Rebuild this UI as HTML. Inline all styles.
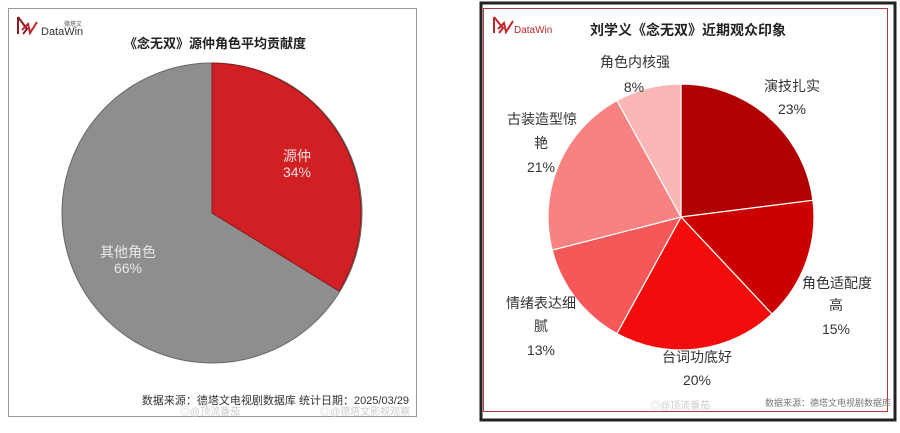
<!DOCTYPE html>
<html><head><meta charset="utf-8"><style>
html,body{margin:0;padding:0;background:#fff;width:900px;height:433px;overflow:hidden}
svg{display:block;font-family:"Liberation Sans","Noto Sans CJK SC",sans-serif}
</style></head><body>
<svg width="900" height="433" viewBox="0 0 900 433">
<rect x="0" y="0" width="900" height="433" fill="#fff"/>
<!-- Left panel -->
<rect x="8.5" y="8.5" width="408" height="408" fill="#fff" stroke="#999" stroke-width="1"/>
<g>
<path d="M18 17 L27 29 L23 34 M18 17 L18 34" stroke="#8a1a22" stroke-width="2" fill="none"/>
<path d="M22 30 L28 24 L30 33 L37 22" stroke="#c0272d" stroke-width="2" fill="none"/>
<text x="41" y="35" font-size="11" fill="#333">DataWin</text>
<text x="64" y="26" font-size="6" fill="#555">德塔文</text>
</g>
<text x="215" y="48" font-size="13" font-weight="bold" text-anchor="middle" fill="#222">《念无双》源仲角色平均贡献度</text>
<circle cx="212" cy="213" r="150" fill="#8e8e8e" stroke="#666" stroke-width="1"/>
<path d="M212 213 L212 63 A150 150 0 0 1 339 291 Z" fill="#d02024" stroke="#8a1a1a" stroke-width="1"/>
<text x="297" y="161" font-size="14" text-anchor="middle" fill="#f4dede">源仲</text>
<text x="297" y="177" font-size="14" text-anchor="middle" fill="#f4dede">34%</text>
<text x="128" y="257" font-size="14" text-anchor="middle" fill="#e8e8e8">其他角色</text>
<text x="128" y="273" font-size="14" text-anchor="middle" fill="#e8e8e8">66%</text>
<text x="409" y="404" font-size="11" text-anchor="end" fill="#333">数据来源：德塔文电视剧数据库  统计日期：2025/03/29</text>
<text x="180" y="415" font-size="10" fill="#ccc">◎@顶流番茄</text>
<text x="320" y="415" font-size="10" fill="#ccc">◎@德塔文影视观察</text>

<!-- Right panel -->
<rect x="481" y="3" width="414" height="417" fill="#fff" stroke="#222" stroke-width="3"/>
<rect x="483.5" y="8.5" width="404" height="403" fill="none" stroke="#b03a3a" stroke-width="1"/>
<g>
<path d="M494 17 L503 28 L499 33 M494 17 L494 33" stroke="#c0272d" stroke-width="2" fill="none"/>
<path d="M498 29 L504 23 L506 32 L513 21" stroke="#c0272d" stroke-width="2" fill="none"/>
<text x="514" y="33" font-size="10" fill="#c0272d">DataWin</text>
</g>
<text x="688" y="35" font-size="14" font-weight="bold" text-anchor="middle" fill="#222">刘学义《念无双》近期观众印象</text>
<g stroke="#fff" stroke-width="1.2">
<path d="M681 217 L681 84 A133 133 0 0 1 812.9 200.3 Z" fill="#b00000"/>
<path d="M681 217 L812.9 200.3 A133 133 0 0 1 772 314 Z" fill="#cc0000"/>
<path d="M681 217 L772 314 A133 133 0 0 1 616.9 333.5 Z" fill="#f20c0c"/>
<path d="M681 217 L616.9 333.5 A133 133 0 0 1 552.2 250.1 Z" fill="#f55858"/>
<path d="M681 217 L552.2 250.1 A133 133 0 0 1 616.9 100.5 Z" fill="#f88282"/>
<path d="M681 217 L616.9 100.5 A133 133 0 0 1 681 84 Z" fill="#fbb6b6"/>
</g>
<g font-size="14" fill="#333" text-anchor="middle">
<text x="635" y="67">角色内核强</text>
<text x="634" y="92">8%</text>
<text x="792" y="91">演技扎实</text>
<text x="792" y="114">23%</text>
<text x="542" y="124">古装造型惊</text>
<text x="541" y="148">艳</text>
<text x="541" y="172">21%</text>
<text x="837" y="288">角色适配度</text>
<text x="836" y="310">高</text>
<text x="836" y="334">15%</text>
<text x="541" y="308">情绪表达细</text>
<text x="541" y="331">腻</text>
<text x="541" y="355">13%</text>
<text x="697" y="362">台词功底好</text>
<text x="697" y="385">20%</text>
</g>
<text x="765" y="406" font-size="9" fill="#777">数据来源：德塔文电视剧数据库</text>
<text x="650" y="409" font-size="10" fill="#ccc">◎@顶流番茄</text>
</svg>
</body></html>
